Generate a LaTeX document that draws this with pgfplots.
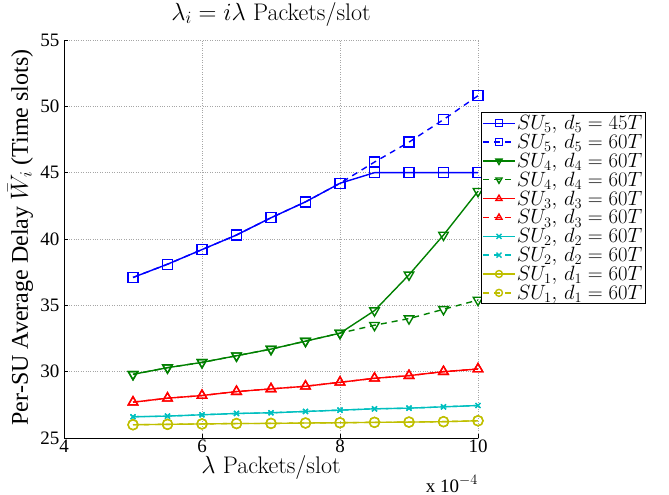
\documentclass[border=0pt]{standalone}
\usepackage{fontspec}
\usepackage{pgfplots}
\pgfplotsset{compat=1.18}
\newfontfamily\timesf{Liberation Serif}
\newcommand\lblfont{\fontsize{24bp}{26bp}\selectfont}
\newcommand\legfont{\fontsize{22.5bp}{24bp}\selectfont}
\newcommand\tickfont{\timesf\fontsize{19bp}{21bp}\selectfont}
\newcommand\yfont{\timesf\fontsize{24bp}{26bp}\selectfont}
\definecolor{mblue}{rgb}{0,0,1}
\definecolor{mgreen}{rgb}{0,0.5,0}
\definecolor{mred}{rgb}{1,0,0}
\definecolor{mcyan}{rgb}{0,0.75,0.75}
\definecolor{myellow}{rgb}{0.75,0.75,0}
\begin{document}
\begin{tikzpicture}
\begin{axis}[
  at={(0,0)}, anchor=south west,
  scale only axis, width=414bp, height=398bp,
  xmin=4, xmax=10, ymin=25, ymax=55,
  clip=false,
  xtick={4,6,8,10}, ytick={25,30,35,40,45,50,55},
  grid=major,
  major grid style={dotted, gray!70, line width=0.6pt},
  axis x line*=bottom, axis y line*=left,
  axis line style={-, line width=0.6pt},
  tick align=inside, major tick length=4bp,
  tick style={black, line width=0.5pt},
  /pgf/number format/assume math mode=true,
  ticklabel style={font=\tickfont},
  x tick label style={anchor=base, yshift=-14bp},
  y tick label style={xshift=-1bp},
  title={\lblfont $\lambda_i = i\lambda$ Packets/slot},
  title style={at={(axis description cs:0.5,1)}, anchor=base, yshift=14bp, inner sep=0pt},
  xlabel={\lblfont $\lambda$ Packets/slot},
  xlabel style={at={(axis description cs:0.5,0)}, anchor=base, yshift=-35bp, inner sep=0pt},
  ylabel={\yfont Per-SU Average Delay $\bar{W}_i$ (Time slots)},
  ylabel style={at={(axis description cs:0,0.5)}, anchor=base, yshift=36bp, xshift=1.5bp, inner sep=0pt},
  legend cell align=left,
  legend style={at={(1.007,0.819)}, anchor=north west, draw=black, fill=white,
    line width=0.6pt, font=\legfont, row sep=0bp, inner sep=1.5bp,
    nodes={inner sep=1.5bp}},
  legend image code/.code={\draw[mark repeat=2,mark phase=2, mark size=3.5bp] plot coordinates {(0cm,0cm) (0.55cm,0cm) (1.1cm,0cm)};},
  every axis plot/.append style={line width=1.4pt},
]
\addplot[mblue, mark=square, mark size=5bp, mark options={solid}] coordinates {
(5,37.1) (5.5,38.1) (6,39.2) (6.5,40.3) (7,41.6) (7.5,42.8) (8,44.2) (8.5,45.0) (9,45.0) (9.5,45.0) (10,45.0)};
\addlegendentry{$SU_5,\, d_5 = 45T$}
\addplot[mblue, dash pattern=on 6bp off 5bp, mark=square, mark size=5bp, mark options={solid}] coordinates {
(5,37.1) (5.5,38.1) (6,39.2) (6.5,40.3) (7,41.6) (7.5,42.8) (8,44.2) (8.5,45.8) (9,47.3) (9.5,49.0) (10,50.8)};
\addlegendentry{$SU_5,\, d_5 = 60T$}
\addplot[mgreen, mark=triangle, mark size=5.5bp, mark options={solid, rotate=180}] coordinates {
(5,29.8) (5.5,30.3) (6,30.7) (6.5,31.2) (7,31.7) (7.5,32.3) (8,32.9) (8.5,34.6) (9,37.3) (9.5,40.3) (10,43.6)};
\addlegendentry{$SU_4,\, d_4 = 60T$}
\addplot[mgreen, dash pattern=on 6bp off 5bp, mark=triangle, mark size=5.5bp, mark options={solid, rotate=180}] coordinates {
(5,29.8) (5.5,30.3) (6,30.7) (6.5,31.2) (7,31.7) (7.5,32.3) (8,32.9) (8.5,33.5) (9,34.0) (9.5,34.7) (10,35.4)};
\addlegendentry{$SU_4,\, d_4 = 60T$}
\addplot[mred, mark=triangle, mark size=5.5bp, mark options={solid}] coordinates {
(5,27.7) (5.5,28.0) (6,28.2) (6.5,28.5) (7,28.7) (7.5,28.9) (8,29.2) (8.5,29.5) (9,29.7) (9.5,30.0) (10,30.2)};
\addlegendentry{$SU_3,\, d_3 = 60T$}
\addplot[mred, dash pattern=on 6bp off 5bp, mark=triangle, mark size=5.5bp, mark options={solid}] coordinates {
(5,27.7) (5.5,28.0) (6,28.2) (6.5,28.5) (7,28.7) (7.5,28.9) (8,29.2) (8.5,29.5) (9,29.7) (9.5,30.0) (10,30.2)};
\addlegendentry{$SU_3,\, d_3 = 60T$}
\addplot[mcyan, mark=x, mark size=3.5bp, mark options={solid}] coordinates {
(5,26.6) (5.5,26.65) (6,26.75) (6.5,26.85) (7,26.9) (7.5,27.0) (8,27.1) (8.5,27.2) (9,27.25) (9.5,27.35) (10,27.45)};
\addlegendentry{$SU_2,\, d_2 = 60T$}
\addplot[mcyan, dash pattern=on 6bp off 5bp, mark=x, mark size=3.5bp, mark options={solid}] coordinates {
(5,26.6) (5.5,26.65) (6,26.75) (6.5,26.85) (7,26.9) (7.5,27.0) (8,27.1) (8.5,27.2) (9,27.25) (9.5,27.35) (10,27.45)};
\addlegendentry{$SU_2,\, d_2 = 60T$}
\addplot[myellow, mark=o, mark size=5bp, mark options={solid}] coordinates {
(5,26.0) (5.5,26.03) (6,26.06) (6.5,26.09) (7,26.1) (7.5,26.13) (8,26.15) (8.5,26.18) (9,26.2) (9.5,26.23) (10,26.3)};
\addlegendentry{$SU_1,\, d_1 = 60T$}
\addplot[myellow, dash pattern=on 6bp off 5bp, mark=o, mark size=5bp, mark options={solid}] coordinates {
(5,26.0) (5.5,26.03) (6,26.06) (6.5,26.09) (7,26.1) (7.5,26.13) (8,26.15) (8.5,26.18) (9,26.2) (9.5,26.23) (10,26.3)};
\addlegendentry{$SU_1,\, d_1 = 60T$}
\node[anchor=base east, font=\tickfont, inner sep=0pt] at (rel axis cs:1,0) [yshift=-54bp] {x 10$^{-4}$};
\end{axis}
\pgfresetboundingbox
\path[use as bounding box] (-64bp,-57bp) rectangle (605bp,438bp);
\end{tikzpicture}
\end{document}
